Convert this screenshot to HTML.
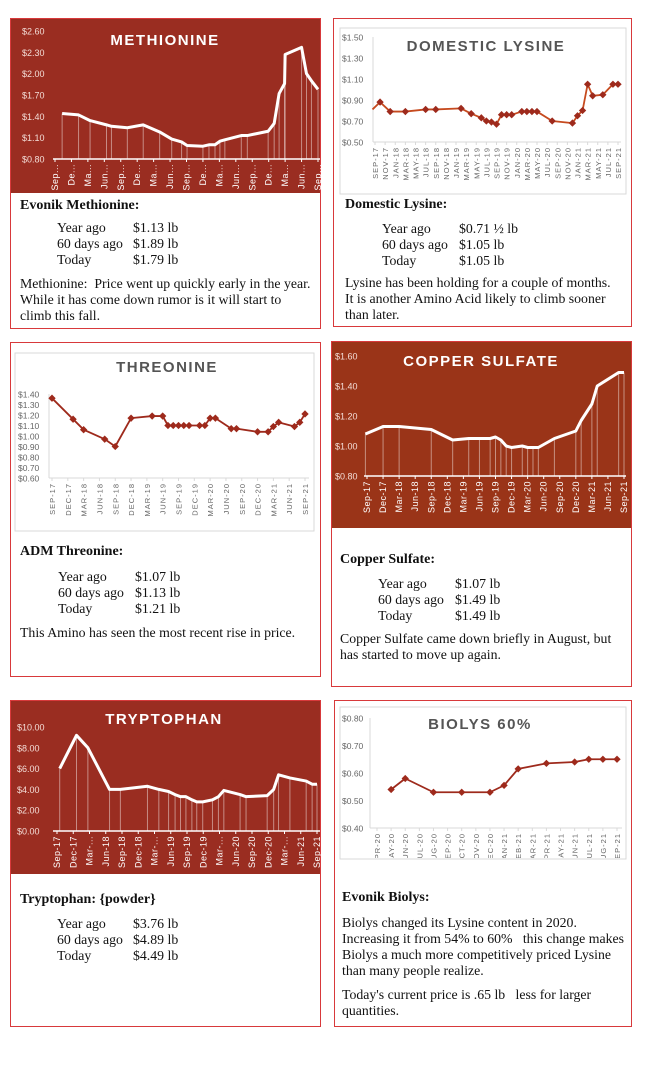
<!DOCTYPE html>
<html><head><meta charset="utf-8">
<style>
html,body{margin:0;padding:0;background:#fff;}
body{width:650px;height:1071px;position:relative;overflow:hidden;font-family:"Liberation Serif",serif;color:#111;}
.box{position:absolute;border:1px solid #d8393b;box-sizing:border-box;}
.t{position:absolute;font-size:13.8px;line-height:16px;white-space:nowrap;}
.h{font-weight:bold;font-size:14px;}
svg{position:absolute;left:0;top:0;}
</style></head><body>
<div class="box" style="left:10px;top:18px;width:311px;height:311px"></div>
<div class="box" style="left:333px;top:18px;width:299px;height:309px"></div>
<div class="box" style="left:10px;top:342px;width:311px;height:335px"></div>
<div class="box" style="left:331px;top:341px;width:301px;height:346px"></div>
<div class="box" style="left:10px;top:700px;width:311px;height:327px"></div>
<div class="box" style="left:334px;top:700px;width:298px;height:327px"></div>

<svg id="s" width="650" height="1071">
<defs><clipPath id="bclip"><rect x="340" y="706" width="287" height="152"/></clipPath></defs>
<rect x="11" y="19" width="309" height="174" fill="#9a2d21"/>
<rect x="340" y="28" width="286" height="166" fill="#fff" stroke="#d9d9d9"/>
<rect x="15" y="353" width="299" height="178" fill="#fff" stroke="#d9d9d9"/>
<rect x="332" y="342" width="299" height="186" fill="#9a3418"/>
<rect x="11" y="701" width="309" height="173" fill="#9a2d21"/>
<rect x="340" y="707" width="286" height="152" fill="#fff" stroke="#d9d9d9"/>
<g id="biolysClip" clip-path="url(#bclip)"></g>
</svg>

<div class="t h" style="left:20px;top:198px">Evonik Methionine:</div>
<div class="t" style="left:57px;top:220px">Year ago<br>60 days ago<br>Today</div>
<div class="t" style="left:133px;top:220px">$1.13 lb<br>$1.89 lb<br>$1.79 lb</div>
<div class="t" style="left:20px;top:276px">Methionine:&nbsp; Price went up quickly early in the year.<br>While it has come down rumor is it will start to<br>climb this fall.</div>

<div class="t h" style="left:345px;top:197px">Domestic Lysine:</div>
<div class="t" style="left:382px;top:221px">Year ago<br>60 days ago<br>Today</div>
<div class="t" style="left:459px;top:221px">$0.71 ½ lb<br>$1.05 lb<br>$1.05 lb</div>
<div class="t" style="left:345px;top:275px">Lysine has been holding for a couple of months.<br>It is another Amino Acid likely to climb sooner<br>than later.</div>

<div class="t h" style="left:20px;top:544px">ADM Threonine:</div>
<div class="t" style="left:58px;top:569px">Year ago<br>60 days ago<br>Today</div>
<div class="t" style="left:135px;top:569px">$1.07 lb<br>$1.13 lb<br>$1.21 lb</div>
<div class="t" style="left:20px;top:625px">This Amino has seen the most recent rise in price.</div>

<div class="t h" style="left:340px;top:552px">Copper Sulfate:</div>
<div class="t" style="left:378px;top:576px">Year ago<br>60 days ago<br>Today</div>
<div class="t" style="left:455px;top:576px">$1.07 lb<br>$1.49 lb<br>$1.49 lb</div>
<div class="t" style="left:340px;top:631px">Copper Sulfate came down briefly in August, but<br>has started to move up again.</div>

<div class="t h" style="left:20px;top:892px">Tryptophan: {powder}</div>
<div class="t" style="left:57px;top:916px">Year ago<br>60 days ago<br>Today</div>
<div class="t" style="left:133px;top:916px">$3.76 lb<br>$4.89 lb<br>$4.49 lb</div>

<div class="t h" style="left:342px;top:890px">Evonik Biolys:</div>
<div class="t" style="left:342px;top:915px">Biolys changed its Lysine content in 2020.<br>Increasing it from 54% to 60% &nbsp; this change makes<br>Biolys a much more competitively priced Lysine<br>than many people realize.</div>
<div class="t" style="left:342px;top:987px">Today's current price is .65 lb &nbsp; less for larger<br>quantities.</div>

<script>
// ---- data ----
const metMonths = [1.3,4.3,6.4,9.4,10.3,13.2,16.1,19.1,21.3,23.1,24.1,27,28.1,29.2,30.1,31,34,35.1,38.9,40,40.9,41.9,42,45,45.9,46.8,48];
const metValues = [1.44,1.42,1.34,1.28,1.26,1.24,1.28,1.18,1.08,1.04,0.99,0.98,1.00,1.00,1.05,1.07,1.13,1.13,1.19,1.30,1.72,1.86,2.27,2.37,2.00,1.90,1.78];
const metTicks = ["$0.80","$1.10","$1.40","$1.70","$2.00","$2.30","$2.60"];
const metXLabels = ["Sep...","De...","Ma...","Jun...","Sep...","De...","Ma...","Jun...","Sep...","De...","Ma...","Jun...","Sep...","De...","Ma...","Jun...","Sep..."];

const lysMonths = [-0.5,1,3,6,10,12,17,19,21,22,23,24,25,26,27,29,30,31,32,35,39,40,41,42,43,45,47,48];
const lysValues = [0.81,0.88,0.79,0.79,0.81,0.81,0.82,0.77,0.73,0.70,0.69,0.67,0.76,0.76,0.76,0.79,0.79,0.79,0.79,0.70,0.68,0.75,0.80,1.05,0.94,0.95,1.05,1.05];
const lysTicks = ["$0.50","$0.70","$0.90","$1.10","$1.30","$1.50"];
const lysXLabels = ["SEP-17","NOV-17","JAN-18","MAR-18","MAY-18","JUL-18","SEP-18","NOV-18","JAN-19","MAR-19","MAY-19","JUL-19","SEP-19","NOV-19","JAN-20","MAR-20","MAY-20","JUL-20","SEP-20","NOV-20","JAN-21","MAR-21","MAY-21","JUL-21","SEP-21"];

const thrMonths = [0,4,6,10,12,15,19,21,22,23,24,25,26,28,29,30,31,34,35,39,41,42,43,46,47,48];
const thrValues = [1.36,1.16,1.06,0.97,0.90,1.17,1.19,1.19,1.10,1.10,1.10,1.10,1.10,1.10,1.10,1.17,1.17,1.07,1.07,1.04,1.04,1.09,1.13,1.09,1.13,1.21];
const thrTicks = ["$0.60","$0.70","$0.80","$0.90","$1.00","$1.10","$1.20","$1.30","$1.40"];
const thrXLabels = ["SEP-17","DEC-17","MAR-18","JUN-18","SEP-18","DEC-18","MAR-19","JUN-19","SEP-19","DEC-19","MAR-20","JUN-20","SEP-20","DEC-20","MAR-21","JUN-21","SEP-21"];

const cuMonths = [-0.3,3,6,12,16,19,21,23,24,25,26,27,29,30,31,32,35,39,40,42,43,47,48];
const cuValues = [1.08,1.13,1.13,1.11,1.04,1.05,1.05,1.05,1.06,1.04,1.00,0.99,1.00,0.99,0.99,0.99,1.05,1.10,1.17,1.28,1.40,1.49,1.49];
const cuTicks = ["$0.80","$1.00","$1.20","$1.40","$1.60"];
const cuXLabels = ["Sep-17","Dec-17","Mar-18","Jun-18","Sep-18","Dec-18","Mar-19","Jun-19","Sep-19","Dec-19","Mar-20","Jun-20","Sep-20","Dec-20","Mar-21","Jun-21","Sep-21"];

const trpMonths = [0.5,3.6,5.7,9.7,11.7,16.7,18.8,20.6,21.8,22.8,23.8,24.9,25.8,26.9,28.7,29.8,30.8,33.8,34.9,38.8,40,40.9,43,46,47.1,48];
const trpValues = [6.0,9.2,8.0,4.0,4.0,4.3,4.0,3.8,3.5,3.3,3.3,3.0,2.8,2.8,3.0,3.3,3.9,3.5,3.3,3.4,4.0,5.4,5.1,4.8,4.5,4.5];
const trpTicks = ["$0.00","$2.00","$4.00","$6.00","$8.00","$10.00"];
const trpXLabels = ["Sep-17","Dec-17","Mar-...","Jun-18","Sep-18","Dec-18","Mar-...","Jun-19","Sep-19","Dec-19","Mar-...","Jun-20","Sep-20","Dec-20","Mar-...","Jun-21","Sep-21"];

const bioMonths = [1,2,4,6,8,9,10,12,14,15,16,17];
const bioValues = [0.54,0.58,0.53,0.53,0.53,0.555,0.615,0.635,0.64,0.65,0.65,0.65];
const bioTicks = ["$0.40","$0.50","$0.60","$0.70","$0.80"];
const bioXLabels = ["APR-20","MAY-20","JUN-20","JUL-20","AUG-20","SEP-20","OCT-20","NOV-20","DEC-20","JAN-21","FEB-21","MAR-21","APR-21","MAY-21","JUN-21","JUL-21","AUG-21","SEP-21"];

// ---- drawing ----
const NS = "http://www.w3.org/2000/svg";
const root = document.getElementById("s");
function mk(parent, tag, attrs, txt){
  const e = document.createElementNS(NS, tag);
  for (const k in attrs) e.setAttribute(k, attrs[k]);
  if (txt !== undefined) e.textContent = txt;
  parent.appendChild(e);
  return e;
}
function draw(c){
  const g = mk(c.parent || root, "g", {});
  
  
  const xs = m => c.x0 + (m - c.m0) / (c.m1 - c.m0) * (c.x1 - c.x0);
  const ys = v => c.yb - (v - c.vmin) / (c.vmax - c.vmin) * (c.yb - c.yt);
  const red = c.red;
  const axCol = red ? "#fff" : "#d9d9d9";
  const txtCol = red ? "#f3dcd6" : "#666";
  const ti = mk(g, "text", {x:c.tx, y:c.ty, "text-anchor":"middle", fill: red ? "#fff" : "#555", "font-family":"Liberation Sans, sans-serif", "font-weight":"bold", "font-size":c.tfs || 15, "letter-spacing":1.5}, c.title);
  
  
  const step = (c.vmax - c.vmin) / (c.yTicks.length - 1);
  c.yTicks.forEach((lab, i) => {
    const v = c.vmin + i * step;
    const t = mk(g, "text", {x:c.ylx, y:ys(v) + 3.5, fill:txtCol, "font-family":"Liberation Sans, sans-serif", "font-size":c.yfs || 9}, lab);
    
    
  });
  if (!red) mk(g, "line", {x1:c.axL, x2:c.axL, y1:c.yt, y2:c.yb, stroke:"#d9d9d9"});
  const ax = mk(g, "line", {x1:c.axL, x2:c.axR, y1:c.yb, y2:c.yb, stroke:axCol, "stroke-width": red ? 1.5 : 1});
  
  
  const n = c.xLabels.length;
  c.xLabels.forEach((lab, i) => {
    const m = c.lm0 + i * (c.lm1 - c.lm0) / (n - 1);
    const x = xs(m);
    mk(g, "line", {x1:x, x2:x, y1:c.yb, y2:c.yb + 3, stroke:axCol});
    const t = mk(g, "text", {x:0, y:0, transform:`translate(${x + 3},${c.yb + 5}) rotate(-90)`, "text-anchor":"end", fill: red ? "#fff" : "#666", "font-family":"Liberation Sans, sans-serif", "font-size":c.xfs || 9, "letter-spacing": red ? 0.5 : 1}, lab);
    
    
  });
  const pts = c.months.map((m, i) => [xs(m), ys(c.values[i])]);
  if (red) {
    pts.forEach(p => {
      const d = mk(g, "line", {x1:p[0], x2:p[0], y1:p[1], y2:c.yb, stroke:"#fff", "stroke-opacity":0.45, "stroke-width":1});
      
      
    });
  }
  const line = mk(g, "polyline", {points: pts.map(p => p.join(",")).join(" "), fill:"none", stroke: red ? "#fff" : c.lineCol, "stroke-width": red ? 3 : 1.8, "stroke-linejoin":"round"});
  
  
  if (!red) {
    pts.forEach((p, i) => {
      if (c.skipFirst && i === 0) return;
      const r = mk(g, "rect", {x:p[0] - 2.6, y:p[1] - 2.6, width:5.2, height:5.2, fill:"#9e2a1c", transform:`rotate(45 ${p[0]} ${p[1]})`});
      
      
    });
  }
}
draw({name:"methionine", red:true, title:"METHIONINE", tx:165, ty:45, months:metMonths, values:metValues, yTicks:metTicks, xLabels:metXLabels,
  m0:0, m1:48, x0:55, x1:318, vmin:0.8, vmax:2.6, yt:31, yb:159, ylx:22, axL:53, axR:320, lm0:0, lm1:48, xfs:9});
draw({name:"lysine", red:false, title:"DOMESTIC LYSINE", tx:486, ty:51, months:lysMonths, values:lysValues, yTicks:lysTicks, xLabels:lysXLabels,
  m0:0, m1:48, x0:375, x1:618, vmin:0.5, vmax:1.5, yt:37, yb:142, ylx:342, axL:373, axR:621, lm0:0, lm1:48, lineCol:"#c64a1e", skipFirst:true, xfs:7.5, yfs:8.5});
draw({name:"threonine", red:false, title:"THREONINE", tx:167, ty:372, months:thrMonths, values:thrValues, yTicks:thrTicks, xLabels:thrXLabels,
  m0:0, m1:48, x0:52, x1:305, vmin:0.6, vmax:1.4, yt:394, yb:478, ylx:18, axL:49, axR:309, lm0:0, lm1:48, lineCol:"#9e2a1c", xfs:7.5, yfs:8.5});
draw({name:"copper", red:true, title:"COPPER SULFATE", tx:481, ty:366, months:cuMonths, values:cuValues, yTicks:cuTicks, xLabels:cuXLabels,
  m0:0, m1:48, x0:367, x1:624, vmin:0.8, vmax:1.6, yt:356, yb:476, ylx:335, axL:364, axR:626, lm0:0, lm1:48, xfs:9});
draw({name:"tryptophan", red:true, title:"TRYPTOPHAN", tx:164, ty:724, months:trpMonths, values:trpValues, yTicks:trpTicks, xLabels:trpXLabels,
  m0:0, m1:48, x0:57, x1:317, vmin:0, vmax:10, yt:727, yb:831, ylx:17, axL:53, axR:320, lm0:0, lm1:48, xfs:9});
draw({name:"biolys", parent:document.getElementById("biolysClip"), red:false, title:"BIOLYS 60%", tx:480, ty:729, months:bioMonths, values:bioValues, yTicks:bioTicks, xLabels:bioXLabels,
  m0:0, m1:17, x0:377, x1:617, vmin:0.4, vmax:0.8, yt:718, yb:828, ylx:342, axL:370, axR:622, lm0:0, lm1:17, lineCol:"#9e2a1c", xfs:7.5, yfs:8.5});
</script>
</body></html>
